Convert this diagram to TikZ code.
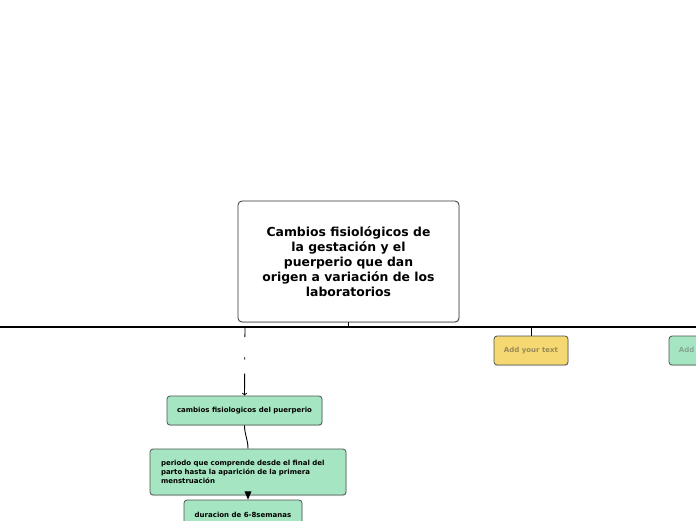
\documentclass[tikz,border=0pt]{standalone}
\usepackage{fontspec}
\setmainfont{DejaVu Sans}
\usetikzlibrary{arrows,shadows}
\hyphenpenalty=10000
\exhyphenpenalty=10000

\definecolor{mapgreen}{HTML}{A6E5C1}
\definecolor{mapyellow}{HTML}{F6D873}
\definecolor{mapedge}{HTML}{4A5550}
\definecolor{softtext}{HTML}{9A8858}
\definecolor{softgreen}{HTML}{86A595}

\tikzset{
  topic/.style={draw=black!80, fill=white, rounded corners=4pt, line width=0.8pt,
    drop shadow={opacity=0.25, shadow xshift=0.6pt, shadow yshift=-1pt},
    minimum width=221pt, minimum height=121pt, align=center,
    font=\fontsize{12.4}{15}\selectfont\bfseries},
  leaf/.style={draw=mapedge, fill=mapgreen, rounded corners=3pt, line width=0.8pt,
    drop shadow={opacity=0.25, shadow xshift=0.5pt, shadow yshift=-1pt},
    minimum height=29pt, inner sep=2pt, font=\fontsize{7}{8.7}\selectfont\bfseries},
  note/.style={leaf, fill=mapyellow, text=softtext, minimum width=74pt},
  link/.style={line width=0.9pt}
}

\begin{document}
\begin{tikzpicture}[x=1pt,y=-1pt]
  \clip (0,0) rectangle (696,520);

  \node[topic] (main) at (348.5,261.5) {Cambios fisiológicos de\\ la gestación y el\\ puerperio que dan\\ origen a variación de los\\ laboratorios};

  % central bar
  \coordinate (barL) at (0,327);
  \coordinate (barR) at (696,327);
  \coordinate (hub) at (348.5,327);
  \draw[line width=1.6pt] (barL) -- (barR);
  \draw[link] (main.south) -- (hub);

  % branch to the left
  \coordinate (forkL) at (245,327);
  \node[leaf, minimum width=155pt] (puerp) at (244.5,410.5) {cambios fisiologicos del puerperio};
  \draw[link, ->, dash pattern=on 10pt off 20pt on 2.5pt off 14pt on 60pt] (forkL) -- (puerp.north);

  \node[leaf, minimum width=196pt, minimum height=46pt, text width=174pt, align=left] (periodo) at (248,472) {periodo que comprende desde el final del parto hasta la aparición de la primera menstruación};
  \draw[link] (puerp.south) to[out=-90,in=90] (periodo.north);

  \node[leaf, minimum width=118pt] (duracion) at (243,514.5) {duracion de 6-8semanas};
  \draw[link, -triangle 45] (periodo.south) -- (duracion.north -| periodo.south);

  % branches to the right
  \coordinate (forkM) at (531,327);
  \node[note] (addA) at (531,350.5) {Add your text};
  \draw[link] (forkM) -- (addA.north);

  \node[leaf, text=softgreen, minimum width=74pt] (addB) at (706,350.5) {Add your text};
\end{tikzpicture}
\end{document}
